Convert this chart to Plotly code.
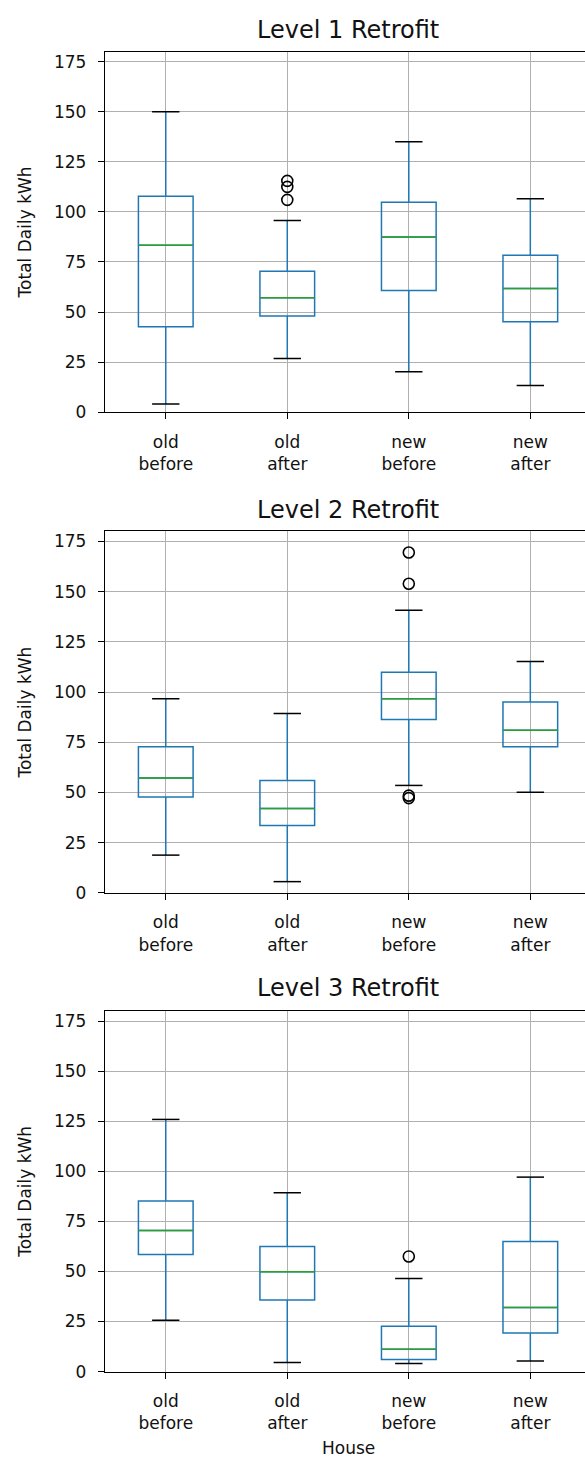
import plotly.graph_objects as go

# ---------------- data ----------------
categories = ["old\nbefore", "old\nafter", "new\nbefore", "new\nafter"]
positions = [1, 2, 3, 4]
titles = ["Level 1 Retrofit", "Level 2 Retrofit", "Level 3 Retrofit"]

# Level 1
l1_q1 = [42.7, 48.0, 60.8, 45.2]
l1_med = [83.3, 57.1, 87.4, 61.7]
l1_q3 = [107.8, 70.4, 104.8, 78.3]
l1_lo = [4.1, 26.8, 20.2, 13.3]
l1_hi = [150.0, 95.7, 135.0, 106.5]
l1_out = [[], [106.0, 112.5, 115.5], [], []]

# Level 2
l2_q1 = [47.8, 33.6, 86.3, 72.8]
l2_med = [57.2, 42.0, 96.7, 81.0]
l2_q3 = [72.8, 55.9, 109.9, 95.0]
l2_lo = [18.8, 5.6, 53.5, 50.1]
l2_hi = [96.7, 89.3, 140.7, 115.2]
l2_out = [[], [], [47.2, 48.4, 153.9, 169.5], []]

# Level 3
l3_q1 = [58.5, 35.8, 6.1, 19.3]
l3_med = [70.4, 49.8, 11.1, 32.0]
l3_q3 = [85.2, 62.5, 22.6, 65.0]
l3_lo = [25.6, 4.5, 4.0, 5.3]
l3_hi = [125.9, 89.3, 46.5, 97.1]
l3_out = [[], [], [57.5], []]

panels = [
    (l1_q1, l1_med, l1_q3, l1_lo, l1_hi, l1_out),
    (l2_q1, l2_med, l2_q3, l2_lo, l2_hi, l2_out),
    (l3_q1, l3_med, l3_q3, l3_lo, l3_hi, l3_out),
]

# ---------------- style ----------------
W, H = 585, 1470
BLUE = "#1f77b4"
GREEN = "#2ca02c"
GRID = "#b0b0b0"
FONT = "DejaVu Sans"
TICK_SIZE = 17
TITLE_SIZE = 24
BOX_W = 0.45
CAP_W = BOX_W / 2

# pixel layout of each panel (top, bottom)
panel_px = [(52, 415), (535, 899), (1018, 1381)]
title_px = [30, 513, 995]
x_left_px = 105

fig = go.Figure()
layout = dict(
    width=W, height=H,
    margin=dict(l=0, r=0, t=0, b=0),
    paper_bgcolor="white", plot_bgcolor="white",
    showlegend=False,
    font=dict(family=FONT, size=TICK_SIZE, color="#111"),
)

annotations = []
for i, (q1, med, q3, lo, hi, out) in enumerate(panels):
    n = i + 1
    xa = "x" if n == 1 else f"x{n}"
    ya = "y" if n == 1 else f"y{n}"

    fig.add_trace(go.Box(
        x=positions, q1=q1, median=med, q3=q3,
        lowerfence=lo, upperfence=hi,
        width=BOX_W, whiskerwidth=0,
        line=dict(color=BLUE, width=1.5),
        fillcolor="rgba(255,255,255,0)",
        boxpoints=False, xaxis=xa, yaxis=ya, hoverinfo="skip",
    ))

    # caps (black) and medians (green)
    cx, cy, mx, my = [], [], [], []
    for p, l, h, m in zip(positions, lo, hi, med):
        cx += [p - CAP_W / 2, p + CAP_W / 2, None, p - CAP_W / 2, p + CAP_W / 2, None]
        cy += [l, l, None, h, h, None]
        mx += [p - BOX_W / 2, p + BOX_W / 2, None]
        my += [m, m, None]
    fig.add_trace(go.Scatter(x=cx, y=cy, mode="lines",
                             line=dict(color="black", width=1.5),
                             xaxis=xa, yaxis=ya, hoverinfo="skip"))
    fig.add_trace(go.Scatter(x=mx, y=my, mode="lines",
                             line=dict(color=GREEN, width=1.5),
                             xaxis=xa, yaxis=ya, hoverinfo="skip"))

    ox, oy = [], []
    for p, vals in zip(positions, out):
        ox += [p] * len(vals)
        oy += vals
    fig.add_trace(go.Scatter(x=ox, y=oy, mode="markers",
                             marker=dict(symbol="circle-open", size=11,
                                         color="black", line=dict(width=1.6)),
                             xaxis=xa, yaxis=ya, hoverinfo="skip"))

    top, bot = panel_px[i]
    dom = [1 - bot / H, 1 - top / H]
    layout["xaxis" if n == 1 else f"xaxis{n}"] = dict(
        domain=[x_left_px / W, 1], range=[0.5, 4.45],
        tickmode="array", tickvals=positions,
        ticktext=[c.replace("\n", "<br>") for c in categories],
        showgrid=True, gridcolor=GRID, gridwidth=1,
        showline=True, linecolor="black", linewidth=1.3, mirror=True,
        ticks="outside", ticklen=6, tickcolor="black",
        ticklabelstandoff=8,
        zeroline=False, anchor=ya,
        tickfont=dict(family=FONT, size=TICK_SIZE, color="#111"),
    )
    layout["yaxis" if n == 1 else f"yaxis{n}"] = dict(
        domain=dom, range=[0, 180],
        tickmode="array", tickvals=[0, 25, 50, 75, 100, 125, 150, 175],
        showgrid=True, gridcolor=GRID, gridwidth=1,
        showline=True, linecolor="black", linewidth=1.3, mirror=False,
        ticks="outside", ticklen=6, tickcolor="black",
        ticklabelstandoff=8,
        zeroline=False, anchor=xa,
        tickfont=dict(family=FONT, size=TICK_SIZE, color="#111"),
        title=dict(text="Total Daily kWh", standoff=18,
                   font=dict(family=FONT, size=TICK_SIZE, color="#111")),
    )
    annotations.append(dict(
        text=titles[i], xref="paper", yref="paper",
        x=348 / W, y=1 - title_px[i] / H, xanchor="center", yanchor="middle",
        showarrow=False, font=dict(family=FONT, size=TITLE_SIZE, color="#111"),
    ))

annotations.append(dict(
    text="House", xref="paper", yref="paper",
    x=348 / W, y=1 - 1458 / H, xanchor="center", yanchor="middle",
    showarrow=False, font=dict(family=FONT, size=TICK_SIZE, color="#111"),
))
layout["annotations"] = annotations
fig.update_layout(**layout)

fig.write_html("out.html")
